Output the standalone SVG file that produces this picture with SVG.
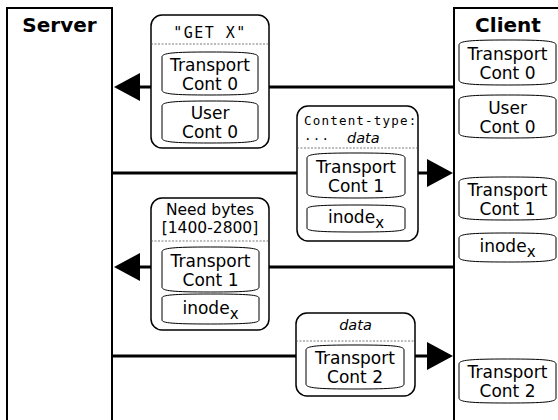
<svg xmlns="http://www.w3.org/2000/svg" width="558" height="420" viewBox="0 0 558 420">
  <defs>
    <style>
      .host { fill: #fff; stroke: #000; stroke-width: 2; }
      .title { font-family: "DejaVu Sans", sans-serif; font-weight: bold; font-size: 20px; text-anchor: middle; }
      .pkt { fill: #fff; stroke: #000; stroke-width: 1.5; }
      .sep { stroke: #555; stroke-width: 0.8; stroke-dasharray: 2 1.5; fill: none; }
      .cyl { fill: #fff; stroke: #000; stroke-width: 1; }
      .lbl { font-family: "DejaVu Sans", sans-serif; font-size: 17px; text-anchor: middle; }
      .hdr { font-family: "DejaVu Sans", sans-serif; font-size: 15.5px; text-anchor: middle; }
      .mono { font-family: "DejaVu Sans Mono", monospace; }
      .it { font-family: "DejaVu Sans", sans-serif; font-style: italic; font-size: 14.5px; }
      .sub { font-size: 15px; }
      .wire { stroke: #000; stroke-width: 3; fill: none; }
    </style>
    <marker id="head" markerUnits="userSpaceOnUse" markerWidth="26" markerHeight="28" refX="0" refY="14" orient="auto" overflow="visible">
      <path d="M0,0 L26,14 L0,28 Z" fill="#000"/>
    </marker>
  </defs>

  <!-- hosts -->
  <g id="server">
    <rect class="host" x="7" y="8" width="105" height="430"/>
    <text class="title" x="59.5" y="32">Server</text>
  </g>
  <g id="client">
    <rect class="host" x="454" y="8" width="120" height="430"/>
    <text class="title" x="508" y="32">Client</text>
  </g>

  <!-- message wires -->
  <g id="connectors">
    <line class="wire" x1="454" y1="87" x2="140" y2="87" marker-end="url(#head)"/>
    <line class="wire" x1="112" y1="173" x2="427" y2="173" marker-end="url(#head)"/>
    <line class="wire" x1="454" y1="267" x2="140" y2="267" marker-end="url(#head)"/>
    <line class="wire" x1="112" y1="356" x2="427" y2="356" marker-end="url(#head)"/>
  </g>

  <!-- client-side state -->
  <g id="client-transport0">
    <path class="cyl" d="M459,45 C459,41 470,40 507.5,40 C545,40 556,41 556,45 V80 C556,84 545,85 507.5,85 C470,85 459,84 459,80 Z"/>
    <text class="lbl" x="507.5" y="59.5">Transport<tspan x="507.5" dy="19">Cont 0</tspan></text>
  </g>
  <g id="client-user0">
    <path class="cyl" d="M459,100 C459,96 470,95 507.5,95 C545,95 556,96 556,100 V133 C556,137 545,138 507.5,138 C470,138 459,137 459,133 Z"/>
    <text class="lbl" x="507.5" y="113.5">User<tspan x="507.5" dy="19">Cont 0</tspan></text>
  </g>
  <g id="client-transport1">
    <path class="cyl" d="M459,182 C459,178 470,177 507.5,177 C545,177 556,178 556,182 V215 C556,219 545,220 507.5,220 C470,220 459,219 459,215 Z"/>
    <text class="lbl" x="507.5" y="195.5">Transport<tspan x="507.5" dy="19">Cont 1</tspan></text>
  </g>
  <g id="client-inode">
    <path class="cyl" d="M459,238 C459,234 470,233 507.5,233 C545,233 556,234 556,238 V257 C556,261 545,262 507.5,262 C470,262 459,261 459,257 Z"/>
    <text class="lbl" x="507.5" y="252">inode<tspan class="sub" dy="5">x</tspan></text>
  </g>
  <g id="client-transport2">
    <path class="cyl" d="M459,364 C459,360 470,359 507.5,359 C545,359 556,360 556,364 V398 C556,402 545,403 507.5,403 C470,403 459,402 459,398 Z"/>
    <text class="lbl" x="507.5" y="378">Transport<tspan x="507.5" dy="19">Cont 2</tspan></text>
  </g>

  <!-- packet 1: request -->
  <g id="packet-get">
    <rect class="pkt" x="151" y="15" width="118" height="133" rx="11"/>
    <line class="sep" x1="151" y1="44" x2="269" y2="44"/>
    <text class="mono" x="210" y="38" font-size="15" letter-spacing="1.5" text-anchor="middle" xml:space="preserve">"GET X"</text>
    <path class="cyl" d="M162,57 C162,53 173,52 210,52 C247,52 258,53 258,57 V90 C258,94 247,95 210,95 C173,95 162,94 162,90 Z"/>
    <text class="lbl" x="210" y="70.5">Transport<tspan x="210" dy="19">Cont 0</tspan></text>
    <path class="cyl" d="M162,106 C162,102 173,101 210,101 C247,101 258,102 258,106 V138 C258,142 247,143 210,143 C173,143 162,142 162,138 Z"/>
    <text class="lbl" x="210" y="119">User<tspan x="210" dy="19">Cont 0</tspan></text>
  </g>

  <!-- packet 2: response header -->
  <g id="packet-header">
    <rect class="pkt" x="297" y="106" width="121" height="135" rx="11"/>
    <line class="sep" x1="297" y1="148" x2="418" y2="148"/>
    <text class="mono" x="304" y="125" font-size="12.5" letter-spacing="1.2">Content-type:</text>
    <text class="mono" x="304" y="143" font-size="12.5" letter-spacing="1.2">···</text>
    <text class="it" x="347" y="143">data</text>
    <path class="cyl" d="M307,158 C307,154 318,153 356,153 C394,153 405,154 405,158 V193 C405,197 394,198 356,198 C318,198 307,197 307,193 Z"/>
    <text class="lbl" x="356" y="172.5">Transport<tspan x="356" dy="19">Cont 1</tspan></text>
    <path class="cyl" d="M307,209 C307,206 318,205 356,205 C394,205 405,206 405,209 V228 C405,231 394,232 356,232 C318,232 307,231 307,228 Z"/>
    <text class="lbl" x="356" y="223">inode<tspan class="sub" dy="5">x</tspan></text>
  </g>

  <!-- packet 3: range request -->
  <g id="packet-range">
    <rect class="pkt" x="151" y="198" width="118" height="132" rx="11"/>
    <line class="sep" x1="151" y1="241" x2="269" y2="241"/>
    <text class="hdr" x="210" y="215">Need bytes<tspan x="210" dy="18">[1400-2800]</tspan></text>
    <path class="cyl" d="M162,252 C162,248 173,247 210.5,247 C248,247 259,248 259,252 V287 C259,291 248,292 210.5,292 C173,292 162,291 162,287 Z"/>
    <text class="lbl" x="210.5" y="266.5">Transport<tspan x="210.5" dy="19">Cont 1</tspan></text>
    <path class="cyl" d="M162,298 C162,295 173,294 210.5,294 C248,294 259,295 259,298 V320 C259,323 248,324 210.5,324 C173,324 162,323 162,320 Z"/>
    <text class="lbl" x="210.5" y="314">inode<tspan class="sub" dy="5">x</tspan></text>
  </g>

  <!-- packet 4: data -->
  <g id="packet-data">
    <rect class="pkt" x="296" y="313" width="119" height="83" rx="11"/>
    <line class="sep" x1="296" y1="341" x2="415" y2="341"/>
    <text class="it" x="355.5" y="330" text-anchor="middle">data</text>
    <path class="cyl" d="M306,350 C306,346 317,345 355,345 C393,345 404,346 404,350 V384 C404,388 393,389 355,389 C317,389 306,388 306,384 Z"/>
    <text class="lbl" x="355" y="364">Transport<tspan x="355" dy="19">Cont 2</tspan></text>
  </g>
</svg>
